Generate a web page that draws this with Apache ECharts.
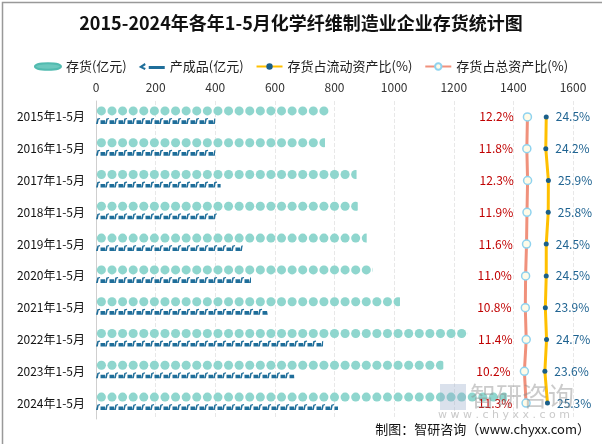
<!DOCTYPE html>
<html><head><meta charset="utf-8">
<script src="https://cdn.jsdelivr.net/npm/echarts@6/dist/echarts.min.js"></script>
<style>html,body{margin:0;padding:0;background:#fff}#c{width:602px;height:444px}</style>
</head><body><div id="c"></div>
<script>
var categories = ['2015年1-5月','2016年1-5月','2017年1-5月','2018年1-5月','2019年1-5月','2020年1-5月','2021年1-5月','2022年1-5月','2023年1-5月','2024年1-5月'];
var inventory = [785, 768, 874, 878, 908, 928, 1020, 1246, 1165, 1378];
var product = [400, 400, 418, 405, 492, 520, 576, 762, 665, 812];
var currentRatio = [24.5, 24.2, 25.9, 25.8, 24.5, 24.5, 23.9, 24.7, 23.6, 25.3];
var totalRatio = [12.2, 11.8, 12.3, 11.9, 11.6, 11.0, 10.8, 11.4, 10.2, 11.3];
var xTicks = [0, 200, 400, 600, 800, 1000, 1200, 1400, 1600];

var FONT = '"Noto Sans CJK SC", sans-serif';
var prodPath = 'path://M0,10 L1.5,1 L4.5,0 L4.5,2 L3,2.5 L2,10 Z M5,4 L10,4 L10,10 L5,10 Z';
var chart = echarts.init(document.getElementById('c'));
chart.setOption({
  animation: false,
  backgroundColor: '#fff',
  textStyle: {fontFamily: FONT},
  title: {
    text: '2015-2024年各年1-5月化学纤维制造业企业存货统计图',
    left: 'center', top: 9,
    textStyle: {fontSize: 18, fontWeight: 'bold', color: '#111', fontFamily: FONT,
      textShadowColor: 'rgba(120,60,0,0.45)', textShadowOffsetX: 1, textShadowOffsetY: 1, textShadowBlur: 0}
  },
  legend: {
    top: 55, left: 'center', itemWidth: 26, itemHeight: 8, itemGap: 12,
    textStyle: {fontSize: 13, color: '#222', fontFamily: FONT},
    data: [
      {name: '存货(亿元)', icon: 'path://M0,5 C0,0 30,0 30,5 C30,10 0,10 0,5 Z', itemStyle: {color: '#6cc8be'}},
      {name: '产成品(亿元)', icon: 'path://M0,6 L6,2 L7,4 L4,6 L7,7 L6,9 Z M10,5 L26,5 L26,8 L10,8 Z', itemStyle: {color: '#1f6e9a'}},
      {name: '存货占流动资产比(%)'},
      {name: '存货占总资产比(%)'}
    ]
  },
  grid: {left: 96, right: 29, top: 101, bottom: 25},
  xAxis: [{
    type: 'value', position: 'top', min: 0, max: 1600, interval: 200,
    axisLine: {show: false}, axisTick: {show: false},
    axisLabel: {fontSize: 12, color: '#333', margin: 8, fontFamily: FONT,
      formatter: function(v){ return String(v); }},
    splitLine: {lineStyle: {color: '#e8e8e8', type: 'dashed'}}
  }, {
    type: 'value', min: -270, max: 42, show: false, splitLine: {show: false}
  }],
  yAxis: {
    type: 'category', data: categories, inverse: true,
    axisLine: {lineStyle: {color: '#cfcfcf'}}, axisTick: {show: false},
    axisLabel: {fontSize: 12, color: '#111', margin: 11, fontFamily: FONT}
  },
  series: [{
    name: '存货(亿元)', type: 'pictorialBar', xAxisIndex: 0,
    data: inventory, symbol: 'circle', symbolSize: [9, 9], symbolOffset: [0, -6],
    symbolRepeat: 'fixed', symbolMargin: 0, symbolClip: true, barGap: '-100%',
    itemStyle: {color: '#8fd6ce', borderColor: '#52bbb0', borderWidth: 1.8}, z: 2
  }, {
    name: '产成品(亿元)', type: 'pictorialBar', xAxisIndex: 0,
    data: product, symbol: prodPath, symbolSize: [9, 6], symbolOffset: [0, 4],
    symbolRepeat: 'fixed', symbolMargin: 0, symbolClip: true, barGap: '-100%',
    itemStyle: {color: '#1f6e9a'}, z: 2
  }, {
    name: '存货占流动资产比(%)', type: 'line', xAxisIndex: 1,
    data: currentRatio, symbol: 'circle', symbolSize: 5,
    lineStyle: {color: '#ffc000', width: 3},
    itemStyle: {color: '#1a5f8a'},
    label: {show: true, position: 'right', distance: 7, color: '#1f6391', fontSize: 12, fontFamily: FONT,
      formatter: function(p){ return p.value.toFixed(1) + '%'; }},
    z: 4
  }, {
    name: '存货占总资产比(%)', type: 'line', xAxisIndex: 1,
    data: totalRatio, symbol: 'circle', symbolSize: 8,
    lineStyle: {color: '#f0917c', width: 3},
    itemStyle: {color: '#fffbe8', borderColor: '#8fd3ef', borderWidth: 1.5},
    label: {show: true, position: 'left', distance: 9, color: '#c00000', fontSize: 12, fontFamily: FONT,
      formatter: function(p){ return p.value.toFixed(1) + '%'; }},
    z: 4
  }],
  graphic: [
    {type: 'rect', left: 440, top: 384, z: 100, shape: {width: 26, height: 26},
      style: {fill: 'rgba(150,170,200,0.35)'}},
    {type: 'text', left: 470, top: 383, z: 100,
      style: {text: '智研咨询', font: '26px "Noto Sans CJK SC"', fill: 'rgba(140,140,140,0.45)'}},
    {type: 'text', left: 438, top: 410, z: 100,
      style: {text: 'w w w . c h y x x . c o m', font: '11px "DejaVu Sans"', fill: 'rgba(150,150,150,0.5)'}},
    {type: 'text', right: 12, top: 423, z: 100,
      style: {text: '制图：智研咨询（www.chyxx.com）', font: '13px "Noto Sans CJK SC"', fill: '#111'}},
    {type: 'rect', left: 0, top: 0, z: 101, shape: {x: 0.5, y: 0.5, width: 601, height: 443},
      style: {fill: 'none', stroke: '#999', lineWidth: 1.5}}
  ]
});
</script></body></html>
